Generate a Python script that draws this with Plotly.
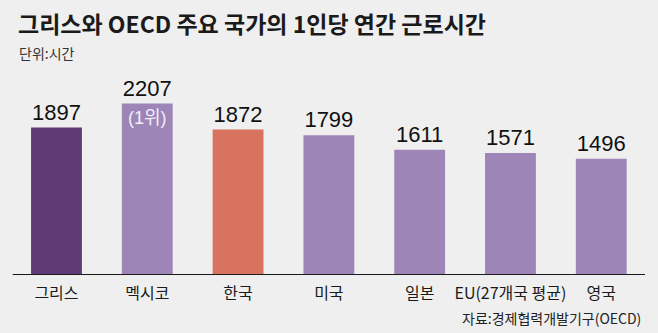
import plotly.graph_objects as go

categories = ["그리스", "멕시코", "한국", "미국", "일본", "EU(27개국 평균)", "영국"]
hours = [1897, 2207, 1872, 1799, 1611, 1571, 1496]
bar_colors = ["#5e3a75", "#9e85b8", "#d7735f", "#9e85b8", "#9e85b8", "#9e85b8", "#9e85b8"]
rank_note = "(1위)"
rank_index = 1

title_text = "그리스와 OECD 주요 국가의 1인당 연간 근로시간"
unit_text = "단위:시간"
source_text = "자료:경제협력개발기구(OECD)"

W, H = 658, 333
BOTTOM = 58
NUM_FONT = "Liberation Sans Narrow, Liberation Sans, Noto Sans CJK KR"
KR_FONT = "Noto Sans CJK KR, Liberation Sans"

fig = go.Figure()
fig.add_trace(go.Bar(
    x=list(range(len(categories))),
    y=hours,
    width=0.56,
    marker=dict(color=bar_colors, line=dict(width=0)),
    text=[str(v) for v in hours],
    textposition="outside",
    cliponaxis=False,
    textfont=dict(family=NUM_FONT, size=22, color="#111111"),
    hoverinfo="skip",
))

plot_h = H - BOTTOM
def py(pix):
    return (plot_h - pix) / plot_h

annotations = [
    dict(text=title_text, x=16 / W, y=py(23), xref="paper", yref="paper",
         xanchor="left", yanchor="middle", showarrow=False,
         font=dict(family=KR_FONT, size=23, color="#1a1a1a", weight="bold")),
    dict(text=unit_text, x=17 / W, y=py(53), xref="paper", yref="paper",
         xanchor="left", yanchor="middle", showarrow=False,
         font=dict(family=KR_FONT, size=14, color="#333333")),
    dict(text=source_text, x=643 / W, y=py(318), xref="paper", yref="paper",
         xanchor="right", yanchor="middle", showarrow=False,
         font=dict(family=KR_FONT, size=14, color="#222222")),
    dict(text=rank_note, x=rank_index, y=hours[rank_index], xref="x", yref="y",
         xanchor="center", yanchor="top", yshift=-2, showarrow=False,
         font=dict(family=NUM_FONT, size=18, color="#f3eef8")),
]

fig.update_layout(
    width=W, height=H,
    margin=dict(l=0, r=0, t=0, b=BOTTOM, pad=0),
    paper_bgcolor="#efefef",
    plot_bgcolor="#efefef",
    showlegend=False,
    annotations=annotations,
    shapes=[dict(type="line", xref="paper", yref="y", x0=12.7 / W, x1=645 / W,
                 y0=0, y1=0, line=dict(color="#1a1a1a", width=2))],
    xaxis=dict(range=[-0.622, 6.625], tickmode="array",
               tickvals=list(range(len(categories))), ticktext=categories,
               showgrid=False, zeroline=False, showline=False,
               ticks="outside", ticklen=4, tickcolor="rgba(0,0,0,0)",
               tickfont=dict(family=KR_FONT, size=16, color="#1a1a1a"),
               fixedrange=True),
    yaxis=dict(range=[0, 3539], showgrid=False, zeroline=False, showline=False,
               showticklabels=False, fixedrange=True),
)

fig.write_html("out.html")
